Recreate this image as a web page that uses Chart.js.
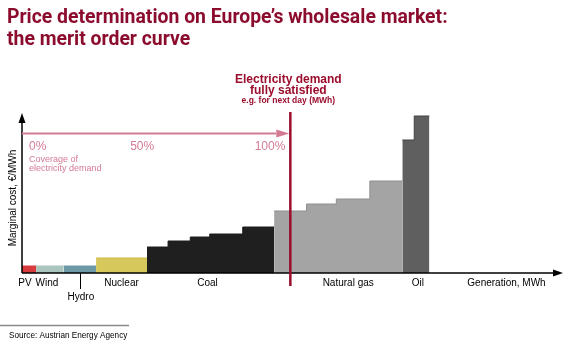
<!DOCTYPE html>
<html>
<head>
<meta charset="utf-8">
<script src="https://cdn.jsdelivr.net/npm/chart.js@4.4.1/dist/chart.umd.min.js"></script>
<style>
    html, body { margin: 0; padding: 0; background: #fff; }
    #wrap { position: relative; width: 580px; height: 350px; overflow: hidden; }
    #chart { position: absolute; left: 0; top: 0; }
    .title {
        position: absolute; left: 7px; top: 6px;
        font: 700 19.4px Roboto, "Liberation Sans", sans-serif;
        line-height: 22px; color: #8c0c2e;
    }
</style>
</head>
<body>
<div id="wrap">
    <canvas id="chart" width="580" height="350"></canvas>
    <div class="title">Price determination on Europe’s wholesale market:<br>the merit order curve</div>
</div>
<script>
// Merit order - blocs de production (largeur = capacité, hauteur = coût marginal)
const blockSource = ['PV', 'Wind', 'Hydro', 'Nuclear', 'Coal', 'Coal', 'Coal', 'Coal', 'Coal',
    'Natural gas', 'Natural gas', 'Natural gas', 'Natural gas', 'Oil', 'Oil'];
const blockWidth = [2.6, 5.1, 6.0, 9.4, 3.9, 4.1, 3.6, 6.1, 5.8, 6.0, 5.5, 6.2, 6.0, 2.2, 2.8];
const blockCost = [7, 7, 7, 15, 26, 32, 36, 39, 46, 62, 69, 74, 92, 133, 157];

// Demande, axes
const demand = 49.6;
const xMax = 100;
const yMax = 160;
const coverageLabels = ['0%', '50%', '100%'];
const sourceLabels = ['PV', 'Wind', 'Hydro', 'Nuclear', 'Coal', 'Natural gas', 'Oil'];

const fillColors = {
    'PV': '#d83a3e', 'Wind': '#a9c5bd', 'Hydro': '#6c9ba7', 'Nuclear': '#d6c85a',
    'Coal': '#1f1f1f', 'Natural gas': '#a4a4a4', 'Oil': '#5f5f5f'
};
const edgeColors = {
    'PV': '#d83a3e', 'Wind': '#a9c5bd', 'Hydro': '#6c9ba7', 'Nuclear': '#c9b94a',
    'Coal': '#1f1f1f', 'Natural gas': '#8e8e8e', 'Oil': '#444444'
};
const RED = '#9b0d2c';
const PINK = '#d47b94';

// Etendue de chaque source (en unités de production)
function sourceRange(name) {
    let s = 0, from = null, to = null;
    blockWidth.forEach((w, i) => {
        if (blockSource[i] === name) { if (from === null) from = s; to = s + w; }
        s += w;
    });
    return [from, to];
}

// Un dataset en escalier par source (pas de jointure visible entre blocs)
const datasets = sourceLabels.map(name => {
    let s = 0;
    const pts = [];
    let last = null;
    blockWidth.forEach((w, i) => {
        if (blockSource[i] === name) {
            pts.push({ x: s, y: blockCost[i] });
            last = { x: s + w, y: blockCost[i] };
        }
        s += w;
    });
    pts.push(last);
    return {
        data: pts,
        stepped: 'before',
        backgroundColor: fillColors[name],
        borderColor: edgeColors[name],
        borderWidth: 1,
        fill: 'origin',
        pointRadius: 0
    };
});

function arrow(ctx, x1, y1, x2, y2, head, half, color, width) {
    const a = Math.atan2(y2 - y1, x2 - x1);
    const bx = x2 - Math.cos(a) * head, by = y2 - Math.sin(a) * head;
    ctx.strokeStyle = color; ctx.fillStyle = color; ctx.lineWidth = width;
    ctx.beginPath(); ctx.moveTo(x1, y1); ctx.lineTo(bx, by); ctx.stroke();
    ctx.beginPath();
    ctx.moveTo(x2, y2);
    ctx.lineTo(bx + Math.sin(a) * half, by - Math.cos(a) * half);
    ctx.lineTo(bx - Math.sin(a) * half, by + Math.cos(a) * half);
    ctx.closePath(); ctx.fill();
}

const annotations = {
    id: 'annotations',
    afterDatasetsDraw(chart) {
        const { ctx, scales: { x, y } } = chart;
        const x0 = x.getPixelForValue(0), y0 = y.getPixelForValue(0);
        const xd = x.getPixelForValue(demand);
        ctx.save();

        // axes
        arrow(ctx, x0, y0, x0, y.getPixelForValue(yMax), 10, 3.5, '#000', 1.5);
        arrow(ctx, x0, y0, x.getPixelForValue(xMax), y0, 10, 3.5, '#000', 1.5);

        // flèche de couverture
        const ya = 133.5;
        arrow(ctx, x0, ya, xd - 1, ya, 13, 4, PINK, 2);
        ctx.fillStyle = PINK;
        ctx.font = '12px "Liberation Sans", Arial, sans-serif';
        ctx.textAlign = 'left';
        ctx.fillText(coverageLabels[0], x0 + 7, 150);
        ctx.textAlign = 'center';
        ctx.fillText(coverageLabels[1], (x0 + xd) / 2 - 14, 150);
        ctx.textAlign = 'right';
        ctx.fillText(coverageLabels[2], xd - 5, 150);
        ctx.textAlign = 'left';
        ctx.font = '9px "Liberation Sans", Arial, sans-serif';
        ctx.fillText('Coverage of', x0 + 7, 162);
        ctx.fillText('electricity demand', x0 + 7, 171);

        // ligne de demande
        ctx.strokeStyle = RED; ctx.lineWidth = 2.5;
        ctx.beginPath(); ctx.moveTo(xd, 112); ctx.lineTo(xd, 286); ctx.stroke();
        ctx.fillStyle = RED; ctx.textAlign = 'center';
        ctx.font = 'bold 12px "Liberation Sans", Arial, sans-serif';
        ctx.fillText('Electricity demand', xd - 2, 83);
        ctx.fillText('fully satisfied', xd - 2, 93.5);
        ctx.font = 'bold 8.5px "Liberation Sans", Arial, sans-serif';
        ctx.fillText('e.g. for next day (MWh)', xd - 2, 103);

        // étiquettes des sources
        const nudge = { 'PV': -4, 'Wind': -3, 'Hydro': 1, 'Nuclear': 0, 'Coal': -3, 'Natural gas': 10, 'Oil': 2 };
        ctx.fillStyle = '#000';
        ctx.font = '10px "Liberation Sans", Arial, sans-serif';
        sourceLabels.forEach(name => {
            const [a, b] = sourceRange(name);
            const cx = (x.getPixelForValue(a) + x.getPixelForValue(b)) / 2 + nudge[name];
            if (name === 'Hydro') {
                ctx.strokeStyle = '#000'; ctx.lineWidth = 1;
                ctx.beginPath(); ctx.moveTo(Math.round(cx - 1) + 0.5, y0); ctx.lineTo(Math.round(cx - 1) + 0.5, 289); ctx.stroke();
                ctx.fillText(name, cx, 300);
            } else {
                ctx.fillText(name, cx, 285.5);
            }
        });
        ctx.fillText('Generation, MWh', 506.5, 285.5);

        // titre de l'axe y
        ctx.save();
        ctx.translate(16, 198);
        ctx.rotate(-Math.PI / 2);
        ctx.fillText('Marginal cost, €/MWh', 0, 0);
        ctx.restore();

        // source
        ctx.strokeStyle = '#8a8a8a'; ctx.lineWidth = 1.5;
        ctx.beginPath(); ctx.moveTo(0, 325.5); ctx.lineTo(129, 325.5); ctx.stroke();
        ctx.textAlign = 'left';
        ctx.font = '8.2px "Liberation Sans", Arial, sans-serif';
        ctx.fillText('Source: Austrian Energy Agency', 9, 337.5);

        ctx.restore();
    }
};

new Chart(document.getElementById('chart'), {
    type: 'line',
    data: { datasets },
    options: {
        responsive: false,
        animation: false,
        events: [],
        layout: { padding: { left: 22, right: 17, top: 113, bottom: 77 } },
        plugins: { legend: { display: false }, tooltip: { enabled: false } },
        scales: {
            x: { type: 'linear', min: 0, max: xMax, display: false },
            y: { min: 0, max: yMax, display: false }
        }
    },
    plugins: [annotations]
});
</script>
</body>
</html>
